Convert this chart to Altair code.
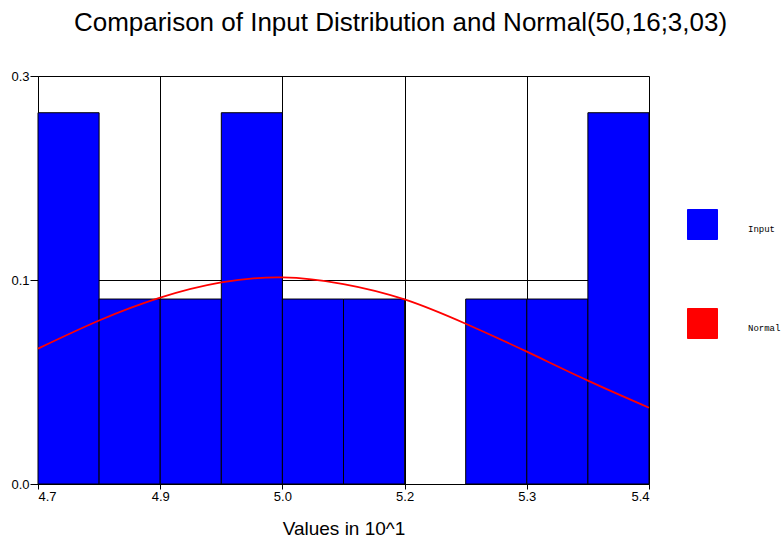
import altair as alt
import pandas as pd

# ---- data ----
bin_starts = [4.70, 4.77, 4.84, 4.91, 4.98, 5.05, 5.19, 5.26, 5.33]
bin_ends = [4.77, 4.84, 4.91, 4.98, 5.05, 5.12, 5.26, 5.33, 5.40]
bin_heights = [0.273, 0.136, 0.136, 0.273, 0.136, 0.136, 0.136, 0.136, 0.273]

curve_x = [4.70, 4.77, 4.84, 4.91, 4.98, 5.05, 5.12, 5.19, 5.26, 5.33, 5.40]
curve_y = [0.0995, 0.1202, 0.1370, 0.1482, 0.1519, 0.1470, 0.1357, 0.1178,
           0.0973, 0.0760, 0.0561]

x_tick_values = [4.70, 4.84, 4.98, 5.12, 5.26, 5.40]
x_tick_labels = ["4.7", "4.9", "5.0", "5.2", "5.3", "5.4"]
y_tick_values = [0.0, 0.15, 0.30]
y_tick_labels = ["0.0", "0.1", "0.3"]

series_names = ["Input", "Normal"]
series_colors = ["#0000FF", "#FF0000"]

bars = pd.DataFrame({"start": bin_starts, "end": bin_ends, "h": bin_heights,
                     "series": series_names[0]})
curve = pd.DataFrame({"x": curve_x, "y": curve_y, "series": series_names[1]})


def label_expr(values, labels):
    keys = ",".join(str(int(round(v * 100))) for v in values)
    labs = ",".join("'" + s + "'" for s in labels)
    return f"[{labs}][indexof([{keys}], round(datum.value*100))]"


font = "Liberation Sans"

x_scale = alt.Scale(domain=[4.7, 5.4], nice=False, zero=False)
y_scale = alt.Scale(domain=[0, 0.3], nice=False)

color = alt.Color(
    "series:N",
    scale=alt.Scale(domain=series_names, range=series_colors),
    legend=alt.Legend(
        title=None,
        orient="none",
        legendX=649,
        legendY=133,
        symbolType="square",
        symbolSize=900,
        symbolStrokeColor="black",
        symbolStrokeWidth=1,
        symbolOpacity=1,
        labelFont="Liberation Mono",
        labelFontSize=9,
        labelColor="black",
        labelOffset=30,
        labelBaseline="top",
        rowPadding=64,
        padding=0,
    ),
)

x_axis = alt.Axis(
    values=x_tick_values,
    labelExpr=label_expr(x_tick_values, x_tick_labels),
    title="Values in 10^1",
    titleFont=font,
    titleFontSize=19,
    titleFontWeight="normal",
    titleColor="black",
    titlePadding=16,
    labelFont=font,
    labelFontSize=13,
    labelColor="black",
    labelPadding=1,
    tickSize=5,
    tickColor="black",
    domainColor="black",
    grid=True,
    gridColor="black",
    gridWidth=1,
    gridOpacity=1,
)

y_axis = alt.Axis(
    values=y_tick_values,
    labelExpr=label_expr(y_tick_values, y_tick_labels),
    title=None,
    labelFont=font,
    labelFontSize=13,
    labelColor="black",
    labelPadding=1,
    tickSize=8,
    tickColor="black",
    domainColor="black",
    grid=True,
    gridColor="black",
    gridWidth=1,
    gridOpacity=1,
)

bar_layer = alt.Chart(bars).mark_bar(stroke="black", strokeWidth=1, opacity=1).encode(
    x=alt.X("start:Q", scale=x_scale, axis=x_axis),
    x2="end:Q",
    y=alt.Y("h:Q", scale=y_scale, axis=y_axis),
    y2=alt.datum(0),
    color=color,
)

line_layer = alt.Chart(curve).mark_line(strokeWidth=1.8, interpolate="natural").encode(
    x=alt.X("x:Q", scale=x_scale),
    y=alt.Y("y:Q", scale=y_scale),
    color=color,
)

chart = (
    alt.layer(bar_layer, line_layer)
    .properties(
        width=611,
        height=408,
        autosize=alt.AutoSizeParams(type="none"),
        padding={"left": 38, "top": 76, "right": 133, "bottom": 55},
        title=alt.TitleParams(
            text="Comparison of Input Distribution and Normal(50,16;3,03)",
            font=font,
            fontSize=26,
            fontWeight="normal",
            color="black",
            anchor="middle",
            dx=57,
            offset=34,
        ),
    )
    .configure_view(stroke=None)
    .configure(background="white")
)

chart.save("out.html", embed_options={"renderer": "svg", "actions": False})
